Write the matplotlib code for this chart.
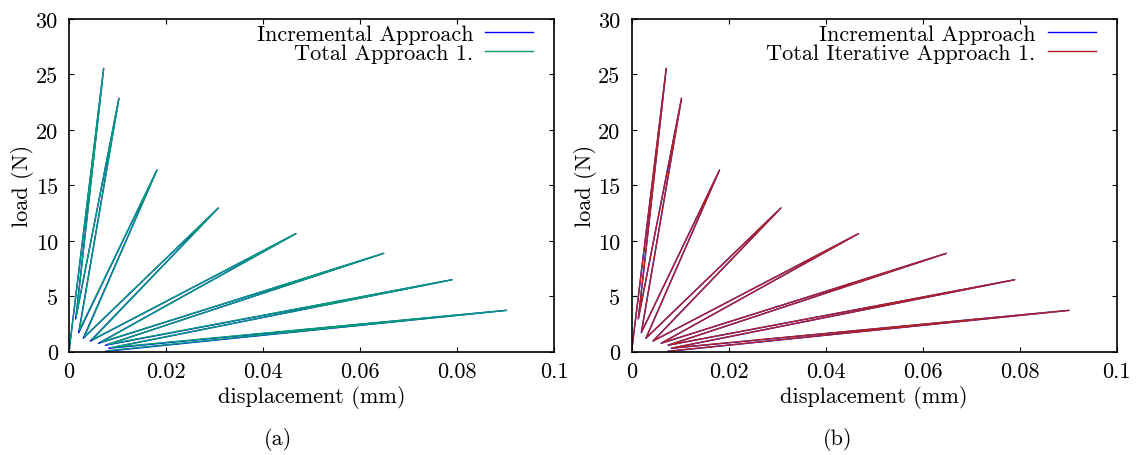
import matplotlib
matplotlib.use("Agg")
from matplotlib import pyplot as plt

plt.rcParams['font.family'] = 'cmr10'
plt.rcParams['mathtext.fontset'] = 'cm'
plt.rcParams['axes.formatter.use_mathtext'] = True

# zigzag load path: origin -> peak 1 -> residual 1 -> peak 2 -> ...
inc_disp = [0.0, 0.00715, 0.00138, 0.0103, 0.0020, 0.01814, 0.00295, 0.0308,
            0.0044, 0.0468, 0.0061, 0.0649, 0.0075, 0.0790, 0.0082, 0.0902, 0.0075]
inc_load = [0.0, 25.55, 2.95, 22.85, 1.71, 16.38, 1.21, 12.96,
            0.96, 10.65, 0.76, 8.87, 0.58, 6.49, 0.31, 3.73, 0.03]

tot_disp = [0.0, 0.00715, 0.00150, 0.0103, 0.00215, 0.01814, 0.0032, 0.0308,
            0.0048, 0.0468, 0.0066, 0.0649, 0.0080, 0.0790, 0.0088, 0.0902, 0.0081]
tot_load = [0.0, 25.55, 3.25, 22.85, 1.95, 16.38, 1.35, 12.96,
            1.08, 10.65, 0.86, 8.87, 0.66, 6.49, 0.38, 3.73, 0.10]

iter_disp = [0.0, 0.00715, 0.00142, 0.0103, 0.00205, 0.01814, 0.0030, 0.0308,
             0.0045, 0.0468, 0.0062, 0.0649, 0.0076, 0.0790, 0.0083, 0.0902, 0.0076]
iter_load = [0.0, 25.55, 3.02, 22.85, 1.76, 16.38, 1.24, 12.96,
             0.98, 10.65, 0.78, 8.87, 0.60, 6.49, 0.33, 3.73, 0.05]

x_ticks = [0, 0.02, 0.04, 0.06, 0.08, 0.1]
x_labels = ['0', '0.02', '0.04', '0.06', '0.08', '0.1']
y_ticks = [0, 5, 10, 15, 20, 25, 30]
y_labels = ['0', '5', '10', '15', '20', '25', '30']

FS = 16

fig = plt.figure(figsize=(11.4, 4.56), dpi=100)
ax_a = fig.add_axes([0.0605, 0.2265, 0.4254, 0.7296])
ax_b = fig.add_axes([0.554, 0.2265, 0.4254, 0.7296])

panels = [
    (ax_a, tot_disp, tot_load, 'Total Approach 1.', '#009e73', '(a)', 278),
    (ax_b, iter_disp, iter_load, 'Total Iterative Approach 1.', '#b22222', '(b)', 838),
]

for ax, xd, yd, name, col, cap, cx in panels:
    ax.plot(inc_disp, inc_load, color='#0000ff', lw=1.0, label='Incremental Approach')
    ax.plot(xd, yd, color=col, lw=1.0, label=name)

    ax.set_xlim(0, 0.1)
    ax.set_ylim(0, 30)
    ax.set_xticks(x_ticks)
    ax.set_xticklabels(x_labels)
    ax.set_yticks(y_ticks)
    ax.set_yticklabels(y_labels)
    ax.tick_params(direction='in', length=3.5, width=0.8, labelsize=FS,
                   top=True, right=True)
    ax.tick_params(axis='y', pad=8)
    ax.tick_params(axis='x', pad=7)
    for s in ax.spines.values():
        s.set_linewidth(1.2)

    ax.set_xlabel('displacement (mm)', fontsize=FS, labelpad=3)
    ax.set_ylabel('load (N)', fontsize=FS, labelpad=1)

    leg = ax.legend(loc='upper right', bbox_to_anchor=(0.957, 0.985), frameon=False,
                    markerfirst=False, fontsize=FS, handlelength=2.15,
                    handletextpad=0.55, labelspacing=0.0, borderaxespad=0,
                    borderpad=0)

    fig.text(cx / 1140, 1 - 440 / 456, cap, fontsize=FS, ha='center', va='center')

fig.savefig('out.png', dpi=100)
